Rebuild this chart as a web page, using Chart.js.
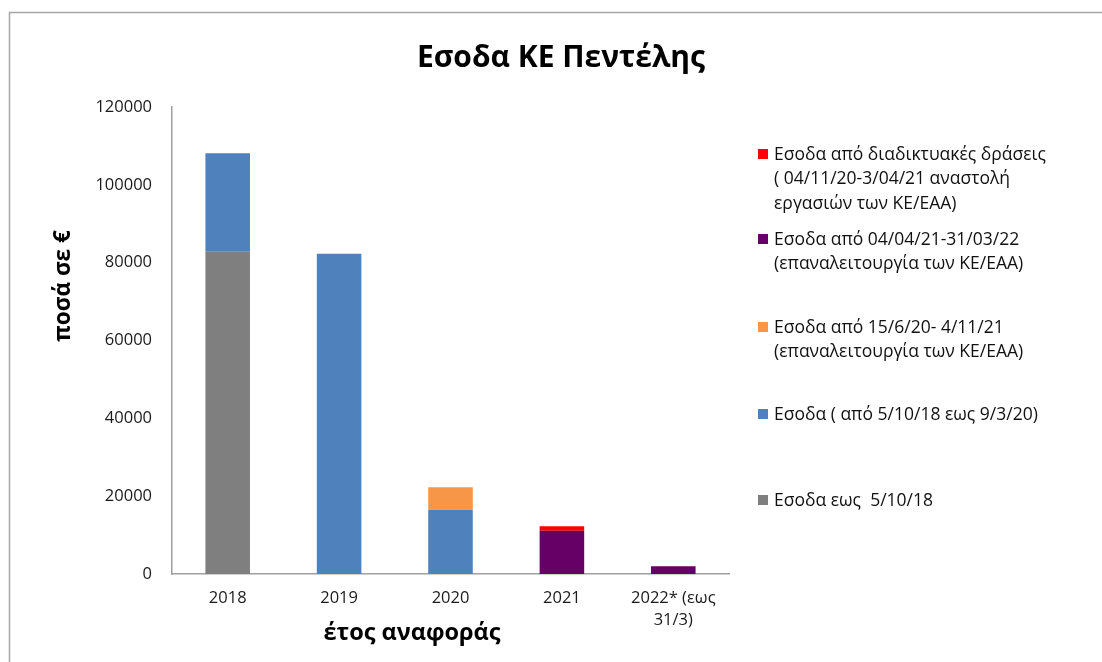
<!DOCTYPE html>
<html>
<head>
<meta charset="utf-8">
<script src="https://cdn.jsdelivr.net/npm/chart.js@4"></script>
<style>
  html, body { margin: 0; padding: 0; background: #fff; overflow: hidden; }
  #wrap { width: 1102px; height: 662px; }
</style>
</head>
<body>
<div id="wrap"><canvas id="incomeChart" width="1102" height="662"></canvas></div>
<script>
// years on the x axis
const years = ['2018', '2019', '2020', '2021', ['2022* (εως', '31/3)']];

// income per period (€)
const untilOct18 = [82800, null, null, null, null];
const oct18ToMar20 = [25300, 82300, 16500, null, null];
const jun20ToNov21 = [null, null, 5800, null, null];
const apr21ToMar22 = [null, null, null, 11100, 2000];
const onlineActions = [null, null, null, 1200, null];

const yTicks = [0, 20000, 40000, 60000, 80000, 100000, 120000];

// legend text, one entry per line
const legendUntilOct18 = ['Εσοδα εως  5/10/18'];
const legendOct18 = ['Εσοδα ( από 5/10/18 εως 9/3/20)'];
const legendJun20 = ['Εσοδα από 15/6/20- 4/11/21', '(επαναλειτουργία των ΚΕ/ΕΑΑ)'];
const legendApr21 = ['Εσοδα από 04/04/21-31/03/22', '(επαναλειτουργία των ΚΕ/ΕΑΑ)'];
const legendOnline = ['Εσοδα από διαδικτυακές δράσεις', '( 04/11/20-3/04/21 αναστολή', 'εργασιών των ΚΕ/ΕΑΑ)'];

const FONT = '"Open Sans", "Noto Sans", sans-serif';

// frame, title, axis titles and the Excel-like legend
const decorPlugin = {
    id: 'decor',
    beforeDraw(chart) {
        const ctx = chart.ctx;
        ctx.save();
        ctx.strokeStyle = '#a6a6a6';
        ctx.lineWidth = 1.5;
        ctx.strokeRect(9.5, 12.5, 1200, 800);
        ctx.restore();
    },
    afterDraw(chart) {
        const ctx = chart.ctx;
        ctx.save();
        ctx.fillStyle = '#000';
        ctx.textAlign = 'center';
        ctx.textBaseline = 'middle';

        ctx.font = 'bold 30px ' + FONT;
        ctx.fillText('Εσοδα ΚΕ Πεντέλης', 561, 58);

        ctx.font = 'bold 23.5px ' + FONT;
        ctx.fillText('έτος αναφοράς', 412, 633);

        ctx.save();
        ctx.translate(64, 286);
        ctx.rotate(-Math.PI / 2);
        ctx.font = 'bold 22.5px ' + FONT;
        ctx.fillText('ποσά σε €', 0, 0);
        ctx.restore();

        // legend, top entry is the last dataset
        const rows = [155, 240, 328, 415, 501];
        const sets = chart.data.datasets.slice().reverse();
        ctx.textAlign = 'left';
        ctx.font = '17.5px ' + FONT;
        sets.forEach((ds, i) => {
            const y = rows[i];
            ctx.fillStyle = ds.backgroundColor;
            ctx.fillRect(758, y - 6, 10, 10);
            ctx.fillStyle = '#111';
            ds.legendLines.forEach((line, j) => {
                ctx.fillText(line, 774, y + j * 24.5);
            });
        });
        ctx.restore();
    }
};

const ctx = document.getElementById('incomeChart').getContext('2d');
new Chart(ctx, {
    type: 'bar',
    data: {
        labels: years,
        datasets: [
            { label: legendUntilOct18.join(' '), legendLines: legendUntilOct18, data: untilOct18, backgroundColor: '#7f7f7f' },
            { label: legendOct18.join(' '), legendLines: legendOct18, data: oct18ToMar20, backgroundColor: '#4f81bd' },
            { label: legendJun20.join(' '), legendLines: legendJun20, data: jun20ToNov21, backgroundColor: '#f79646' },
            { label: legendApr21.join(' '), legendLines: legendApr21, data: apr21ToMar22, backgroundColor: '#660066' },
            { label: legendOnline.join(' '), legendLines: legendOnline, data: onlineActions, backgroundColor: '#ff0000' }
        ]
    },
    options: {
        responsive: false,
        animation: false,
        layout: { padding: { left: 0, right: 373, top: 107, bottom: 0 } },
        datasets: {
            bar: { barPercentage: 0.4, categoryPercentage: 1.0 }
        },
        plugins: {
            legend: { display: false },
            title: { display: false },
            tooltip: { enabled: false }
        },
        scales: {
            x: {
                stacked: true,
                grid: { display: false, drawTicks: false },
                border: { display: true, color: '#a0a0a0', width: 1.5 },
                ticks: {
                    color: '#1a1a1a',
                    font: { family: FONT, size: 16.5, lineHeight: 1.35 },
                    padding: 13,
                    maxRotation: 0,
                    autoSkip: false
                },
                afterFit(scale) { scale.height = 88; }
            },
            y: {
                stacked: true,
                min: 0,
                max: 120000,
                afterBuildTicks(scale) { scale.ticks = yTicks.map(v => ({ value: v })); },
                grid: { display: false, drawTicks: false },
                border: { display: true, color: '#a0a0a0', width: 1.5 },
                ticks: {
                    color: '#1a1a1a',
                    font: { family: FONT, size: 16.5 },
                    padding: 20,
                    callback: v => String(v)
                },
                afterFit(scale) { scale.width = 172; }
            }
        }
    },
    plugins: [decorPlugin]
});
</script>
</body>
</html>
